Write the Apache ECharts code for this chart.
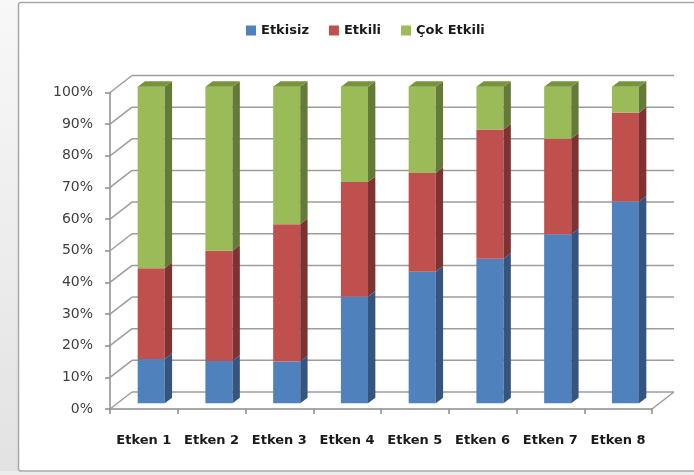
<!DOCTYPE html>
<html>
<head>
<meta charset="utf-8">
<script src="https://cdn.jsdelivr.net/npm/echarts@6/dist/echarts.min.js"></script>
<style>
  html, body { margin: 0; padding: 0; background: #ffffff; }
  #chart { width: 694px; height: 475px; }
</style>
</head>
<body>
<div id="chart"></div>
<script>
// Categories and the share (%) of each answer per category
const categories = ['Etken 1', 'Etken 2', 'Etken 3', 'Etken 4', 'Etken 5', 'Etken 6', 'Etken 7', 'Etken 8'];
const etkisiz   = [14.0, 13.4, 13.2, 33.7, 41.6, 45.7, 53.4, 63.8];
const etkili    = [28.7, 34.8, 43.4, 36.2, 31.2, 40.8, 30.2, 28.0];
const cokEtkili = [57.3, 51.8, 43.4, 30.1, 27.2, 13.5, 16.4, 8.2];
const yTickValues = [0, 10, 20, 30, 40, 50, 60, 70, 80, 90, 100];
const seriesNames = ['Etkisiz', 'Etkili', 'Çok Etkili'];

// depth of the 3D box (back wall offset from the front plane)
const DX = 22, DY = -17;
const OX = DX / 3, OY = DY / 3;     // bars sit in the middle third of the depth

const palette = [
  { front: '#4F81BD', side: '#35557E', top: '#4A72A6' },
  { front: '#C0504D', side: '#7C3331', top: '#A94542' },
  { front: '#9BBB59', side: '#637A39', top: '#77933C' }
];

// stacked [category, base, top] tuples for each series
const layers = [etkisiz, etkili, cokEtkili];
const stacked = layers.map(() => []);
categories.forEach((c, i) => {
  let base = 0;
  layers.forEach((arr, s) => {
    stacked[s].push([i, base, base + arr[i]]);
    base += arr[i];
  });
});

function barRenderer(sIdx) {
  const col = palette[sIdx];
  const isTop = sIdx === layers.length - 1;
  return function (params, api) {
    const cat = api.value(0);
    const pb = api.coord([cat, api.value(1)]);
    const pt = api.coord([cat, api.value(2)]);
    const w = api.size([1, 0])[0] * 0.4;
    const xl = pb[0] - w / 2 + OX, xr = pb[0] + w / 2 + OX;
    const yb = pb[1] + OY, yt = pt[1] + OY;
    const children = [
      { type: 'rect', shape: { x: xl, y: yt, width: w, height: yb - yt },
        style: { fill: col.front } },
      { type: 'polygon', shape: { points: [[xr, yb], [xr + OX, yb + OY], [xr + OX, yt + OY], [xr, yt]] },
        style: { fill: col.side } }
    ];
    if (isTop) {
      children.push({ type: 'polygon',
        shape: { points: [[xl, yt], [xl + OX, yt + OY], [xr + OX, yt + OY], [xr, yt]] },
        style: { fill: col.top } });
    }
    return { type: 'group', children };
  };
}

// back wall gridlines, side wall diagonals and floor edge
function wallRenderer(params, api) {
  const cs = params.coordSys;
  const y = api.coord([0, api.value(1)])[1];
  const x0 = cs.x, x1 = cs.x + cs.width;
  const st = { stroke: '#9c9c9c', lineWidth: 1.5, fill: null };
  const children = [
    { type: 'line', shape: { x1: x0, y1: y, x2: x0 + DX, y2: y + DY }, style: st },
    { type: 'line', shape: { x1: x0 + DX, y1: y + DY, x2: x1 + DX, y2: y + DY }, style: st }
  ];
  if (api.value(1) === 0) {
    children.push({ type: 'line', shape: { x1: x1, y1: y, x2: x1 + DX, y2: y + DY }, style: st });
  }
  return { type: 'group', children };
}

const chart = echarts.init(document.getElementById('chart'), null, { renderer: 'canvas' });

const series = [{
  type: 'custom',
  name: 'walls',
  renderItem: wallRenderer,
  data: yTickValues.map(v => [0, v]),
  silent: true,
  z: 1
}];
seriesNames.forEach((n, s) => {
  series.push({
    type: 'custom',
    name: n,
    renderItem: barRenderer(s),
    itemStyle: { color: palette[s].front },
    encode: { x: 0, y: 2 },
    data: stacked[s],
    z: 2
  });
});

chart.setOption({
  animation: false,
  backgroundColor: '#ffffff',
  graphic: [
    { type: 'rect', shape: { x: 0, y: 0, width: 18, height: 475 }, silent: true, z: -10,
      style: { fill: new echarts.graphic.LinearGradient(0, 0, 0, 1, [
        { offset: 0, color: '#f8f8f8' }, { offset: 1, color: '#e2e2e2' }]) } },
    { type: 'rect', shape: { x: 0, y: 471, width: 694, height: 4 }, silent: true, z: -10,
      style: { fill: '#ececec' } },
    { type: 'rect', shape: { x: 18.5, y: 2.5, width: 700, height: 468.5, r: 2 }, silent: true, z: -9,
      style: { fill: '#ffffff', stroke: '#a8a8a8', lineWidth: 1.5 } }
  ],
  legend: {
    data: seriesNames.map(n => ({ name: n, icon: 'rect' })),
    left: 246,
    top: 24,
    padding: 0,
    itemWidth: 10,
    itemHeight: 10,
    itemGap: 20,
    textStyle: { fontFamily: 'DejaVu Sans', fontWeight: 'bold', fontSize: 13, color: '#1a1a1a' }
  },
  grid: { left: 110, right: 42, top: 92.5, bottom: 66 },
  xAxis: {
    type: 'category',
    data: categories,
    boundaryGap: true,
    axisLine: { show: true, lineStyle: { color: '#8c8c8c', width: 1.5 } },
    axisTick: { show: true, length: 5, lineStyle: { color: '#8c8c8c', width: 1.5 } },
    axisLabel: { interval: 0, margin: 25, fontFamily: 'DejaVu Sans', fontWeight: 'bold', fontSize: 13, color: '#1a1a1a' },
    splitLine: { show: false }
  },
  yAxis: {
    type: 'value',
    min: 0,
    max: 100,
    interval: 10,
    axisLine: { show: true, lineStyle: { color: '#8c8c8c', width: 1.5 } },
    axisTick: { show: true, length: 5, lineStyle: { color: '#8c8c8c', width: 1.5 } },
    axisLabel: { margin: 17, formatter: '{value}%', fontFamily: 'DejaVu Sans', fontSize: 14, color: '#404040' },
    splitLine: { show: false }
  },
  series
});
</script>
</body>
</html>
